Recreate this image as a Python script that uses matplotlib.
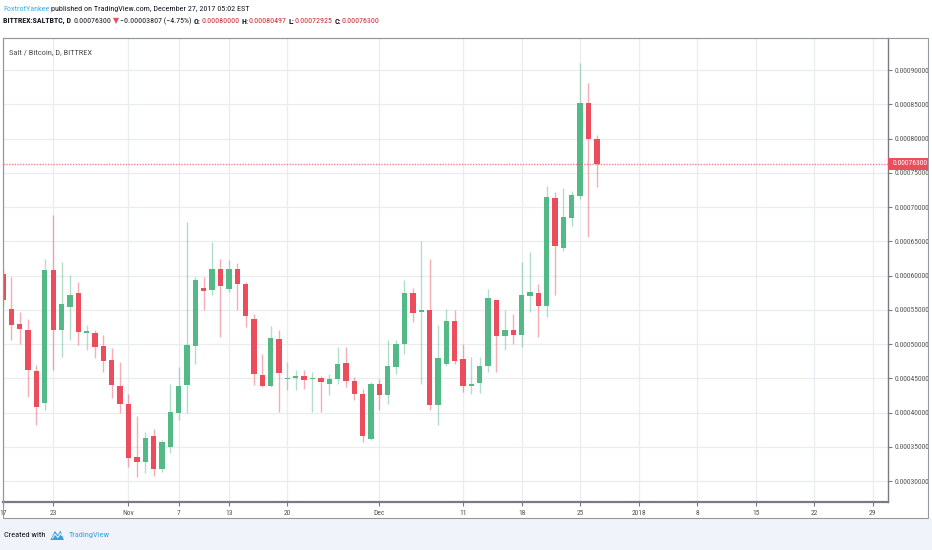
import datetime as dt
import numpy as np
import matplotlib
matplotlib.use("Agg")
import matplotlib.pyplot as plt
import matplotlib.dates as mdates
import matplotlib.transforms as mtransforms
from matplotlib.patches import Rectangle, Polygon
from matplotlib.ticker import FormatStrFormatter
from matplotlib import font_manager as fm

# ---------------- data (BITTREX:SALTBTC, daily) ----------------
start_date = dt.date(2017, 10, 17)
open_ = [0.0006030, 0.0005517, 0.0005288, 0.0005211, 0.0004603, 0.0004141, 0.0006075, 0.0005201,
         0.0005540, 0.0005750, 0.0005161, 0.0005161, 0.0004967, 0.0004763, 0.0004389, 0.0004122,
         0.0003345, 0.0003281, 0.0003656, 0.0003171, 0.0003500, 0.0004001, 0.0004409, 0.0004967,
         0.0005817, 0.0005783, 0.0006100, 0.0005808, 0.0006100, 0.0005871, 0.0005371, 0.0004555,
         0.0004389, 0.0005080, 0.0004491, 0.0004505, 0.0004530, 0.0004486, 0.0004505, 0.0004424,
         0.0004486, 0.0004727, 0.0004465, 0.0004278, 0.0003612, 0.0004414, 0.0004253, 0.0004666,
         0.0004997, 0.0005744, 0.0005467, 0.0005492, 0.0004108, 0.0004705, 0.0005336, 0.0004778,
         0.0004384, 0.0004433, 0.0004676, 0.0005638, 0.0005113, 0.0005211, 0.0005138, 0.0005700,
         0.0005750, 0.0005550, 0.0007129, 0.0006400, 0.0006837, 0.0007158, 0.0008519, 0.0008000]
high = [0.0006100, 0.0005977, 0.0005467, 0.0005371, 0.0004690, 0.0006245, 0.0006891, 0.0006196,
        0.0006002, 0.0005904, 0.0005273, 0.0005211, 0.0005128, 0.0004938, 0.0004739, 0.0004278,
        0.0003947, 0.0003718, 0.0003753, 0.0003597, 0.0004424, 0.0004666, 0.0006779, 0.0005977,
        0.0005977, 0.0006487, 0.0006245, 0.0006221, 0.0006187, 0.0005900, 0.0005444, 0.0004861,
        0.0005259, 0.0005211, 0.0004739, 0.0004628, 0.0004618, 0.0004593, 0.0004530, 0.0004559,
        0.0004957, 0.0004957, 0.0004516, 0.0004351, 0.0004443, 0.0004497, 0.0005055, 0.0005055,
        0.0005939, 0.0005823, 0.0006512, 0.0006245, 0.0005273, 0.0005517, 0.0005502, 0.0004997,
        0.0004811, 0.0004811, 0.0005808, 0.0005638, 0.0005492, 0.0005444, 0.0006196, 0.0006342,
        0.0005881, 0.0007314, 0.0007216, 0.0007280, 0.0007241, 0.0009111, 0.0008810, 0.0008050]
low = [0.0005550, 0.0005055, 0.0005007, 0.0004229, 0.0003816, 0.0004035, 0.0004618, 0.0004811,
       0.0005055, 0.0004982, 0.0004909, 0.0004792, 0.0004588, 0.0004210, 0.0003987, 0.0003208,
       0.0003063, 0.0003112, 0.0003073, 0.0003131, 0.0003404, 0.0003889, 0.0003991, 0.0004715,
       0.0005492, 0.0005711, 0.0005103, 0.0005754, 0.0005492, 0.0005249, 0.0004399, 0.0004374,
       0.0004374, 0.0004010, 0.0004326, 0.0004326, 0.0004351, 0.0004010, 0.0004010, 0.0004253,
       0.0004424, 0.0004374, 0.0004180, 0.0003573, 0.0003597, 0.0004035, 0.0004122, 0.0004570,
       0.0004861, 0.0005321, 0.0004414, 0.0004035, 0.0003816, 0.0004676, 0.0004705, 0.0004301,
       0.0004278, 0.0004287, 0.0004593, 0.0004593, 0.0004909, 0.0005007, 0.0004957, 0.0005467,
       0.0005103, 0.0005394, 0.0005711, 0.0006366, 0.0006731, 0.0007120, 0.0006560, 0.0007292]
close = [0.0005650, 0.0005273, 0.0005219, 0.0004618, 0.0004083, 0.0006075, 0.0005201, 0.0005590,
         0.0005711, 0.0005176, 0.0005186, 0.0004957, 0.0004749, 0.0004399, 0.0004118, 0.0003331,
         0.0003273, 0.0003631, 0.0003171, 0.0003573, 0.0004010, 0.0004389, 0.0004982, 0.0005929,
         0.0005773, 0.0006100, 0.0005842, 0.0006100, 0.0005871, 0.0005405, 0.0004570, 0.0004384,
         0.0005094, 0.0004584, 0.0004505, 0.0004530, 0.0004482, 0.0004505, 0.0004447, 0.0004486,
         0.0004715, 0.0004457, 0.0004268, 0.0003660, 0.0004414, 0.0004258, 0.0004680, 0.0005007,
         0.0005744, 0.0005453, 0.0005502, 0.0004108, 0.0004797, 0.0005336, 0.0004753, 0.0004384,
         0.0004414, 0.0004680, 0.0005671, 0.0005113, 0.0005211, 0.0005138, 0.0005711, 0.0005759,
         0.0005550, 0.0007153, 0.0006429, 0.0006852, 0.0007178, 0.0008519, 0.0008000, 0.0007630]

tick_dates = [dt.date(2017, 10, 17), dt.date(2017, 10, 23), dt.date(2017, 11, 1), dt.date(2017, 11, 7),
              dt.date(2017, 11, 13), dt.date(2017, 11, 20), dt.date(2017, 12, 1), dt.date(2017, 12, 11),
              dt.date(2017, 12, 18), dt.date(2017, 12, 25), dt.date(2018, 1, 1), dt.date(2018, 1, 8),
              dt.date(2018, 1, 15), dt.date(2018, 1, 22), dt.date(2018, 1, 29)]
tick_labels = ["17", "23", "Nov", "7", "13", "20", "Dec", "11", "18", "25", "2018", "8", "15", "22", "29"]
y_ticks = [0.00030, 0.00035, 0.00040, 0.00045, 0.00050, 0.00055, 0.00060,
           0.00065, 0.00070, 0.00075, 0.00080, 0.00085, 0.00090]
last_price = 0.000763

# ---------------- style ----------------
GREEN = "#53b987"
RED = "#eb4d5c"
avail = {f.name for f in fm.fontManager.ttflist}
cond = next((n for n in ["Liberation Sans Narrow", "Roboto Condensed", "Open Sans Condensed",
                         "Liberation Sans"] if n in avail), "DejaVu Sans")
FAM = [cond, "DejaVu Sans"]
plt.rcParams["font.family"] = FAM

W, H = 932, 550
fig = plt.figure(figsize=(W / 100, H / 100), dpi=100, facecolor="white")


def fx(px):
    return px / W


def fy(py):
    return 1 - py / H


L, R, T, B = 3, 888, 38, 502
ax = fig.add_axes([fx(L), fy(B), fx(R) - fx(L), fy(T) - fy(B)])
ax.set_facecolor("white")

# bottom band and outer frame
fig.patches.append(Rectangle((0, 0), 1, fy(519), transform=fig.transFigure,
                             facecolor="#f0f3fa", edgecolor="none", zorder=-10))
fig.patches.append(Rectangle((fx(3), fy(518)), fx(928) - fx(3), fy(T) - fy(518),
                             transform=fig.transFigure, fill=False, edgecolor="#9598a1",
                             lw=0.8, zorder=5))

# ---------------- candles ----------------
o = np.array(open_)
h = np.array(high)
l = np.array(low)
c = np.array(close)
dates = [start_date + dt.timedelta(days=i) for i in range(len(o))]
x = mdates.date2num(dates)
up = c >= o
cols = np.where(up, GREEN, RED)

ax.vlines(x, l, h, colors=cols, lw=1.0, alpha=0.45, zorder=2)
bottoms = np.minimum(o, c)
heights = np.maximum(np.abs(c - o), 1.5e-6)
ax.bar(x, heights, width=0.64, bottom=bottoms, color=cols, lw=0, zorder=3)

nov1 = mdates.date2num(dt.date(2017, 11, 1))
ax.set_xlim(nov1 - 14.91, nov1 + 90.81)
ax.set_ylim(0.0002694, 0.0009470)

# price line
ax.axhline(last_price, color=RED, lw=1.0, ls=(0, (1, 1)), alpha=0.7, zorder=4)
blend = mtransforms.blended_transform_factory(ax.transAxes, ax.transData)
axw = R - L
ax.add_patch(Rectangle((1.0, last_price - 0.82e-5), 40 / axw, 1.64e-5, transform=blend,
                       facecolor=RED, edgecolor="none", clip_on=False, zorder=6))
ax.text(1.0 + 5 / axw, last_price, "0.00076300", transform=blend, ha="left", va="center",
        color="white", fontsize=5.4, zorder=7, clip_on=False)

# axes / ticks
ax.yaxis.tick_right()
ax.set_yticks(y_ticks)
ax.yaxis.set_major_formatter(FormatStrFormatter("%.8f"))
ax.set_xticks(mdates.date2num(tick_dates))
ax.set_xticklabels(tick_labels)
ax.tick_params(axis="y", length=3, width=0.8, color="#787b86", labelsize=5.4,
               labelcolor="#555555", pad=2)
ax.tick_params(axis="x", length=3, width=0.8, color="#787b86", labelsize=5.4,
               labelcolor="#555555", pad=2.5)
ax.grid(True, color="#e9ecf0", lw=0.9)
ax.set_axisbelow(True)
for s in ["top", "left"]:
    ax.spines[s].set_color("#9598a1")
    ax.spines[s].set_linewidth(0.8)
ax.spines["right"].set_color("#787b86")
ax.spines["right"].set_linewidth(1.0)
ax.spines["bottom"].set_color("#787b86")
ax.spines["bottom"].set_linewidth(1.6)

fig.text(fx(9), fy(52), "Salt / Bitcoin, D, BITTREX", fontsize=6.0, color="#4c4c4c",
         va="center", ha="left")

# ---------------- header ----------------
renderer = fig.canvas.get_renderer()


def chain(x0, ypx, parts, size):
    xp = x0
    for s, color, weight, gap in parts:
        t = fig.text(fx(xp), fy(ypx), s, color=color, fontsize=size, fontweight=weight,
                     va="center", ha="left")
        bb = t.get_window_extent(renderer=renderer)
        xp = bb.x1 + gap
    return xp


DARK = "#131722"
VAL = "#c2272d"
chain(3, 9, [("FoxtrotYankee", "#3bb3e4", "normal", 1.5),
             ("published on TradingView.com, December 27, 2017 05:02 EST", DARK, "normal", 0)], 5.9)
chain(3, 21, [("BITTREX:SALTBTC, D", DARK, "bold", 2.5),
              ("0.00076300", DARK, "normal", 1.5),
              ("\u25bc", RED, "normal", 1.5),
              ("\u22120.00003807 (\u22124.75%)", DARK, "normal", 2),
              ("O:", DARK, "bold", 0.3), ("0.00080000", VAL, "normal", 2),
              ("H:", DARK, "bold", 0.3), ("0.00080497", VAL, "normal", 2),
              ("L:", DARK, "bold", 0.3), ("0.00072925", VAL, "normal", 2),
              ("C:", DARK, "bold", 0.3), ("0.00076300", VAL, "normal", 0)], 5.7)

# ---------------- footer ----------------
end = chain(4, 535, [("Created with", DARK, "normal", 0)], 6.0)
lx = end + 5
logo = Polygon([(fx(lx), fy(540)), (fx(lx + 4.5), fy(531)), (fx(lx + 7.5), fy(535)),
                (fx(lx + 10), fy(530.5)), (fx(lx + 13.5), fy(540))], closed=True,
               transform=fig.transFigure, facecolor="#3d9fd8", edgecolor="none")
fig.patches.append(logo)
fig.patches.append(Polygon([(fx(lx + 2), fy(538.5)), (fx(lx + 4.5), fy(534)), (fx(lx + 7.5), fy(537.5)),
                            (fx(lx + 10), fy(533.5)), (fx(lx + 11.5), fy(536))], closed=False,
                           transform=fig.transFigure, fill=False, edgecolor="white", lw=0.7))
fig.text(fx(lx + 18), fy(535), "TradingView", fontsize=6.0, color="#3ca6e0", va="center", ha="left")

fig.savefig("out.png", dpi=100, facecolor=fig.get_facecolor())
